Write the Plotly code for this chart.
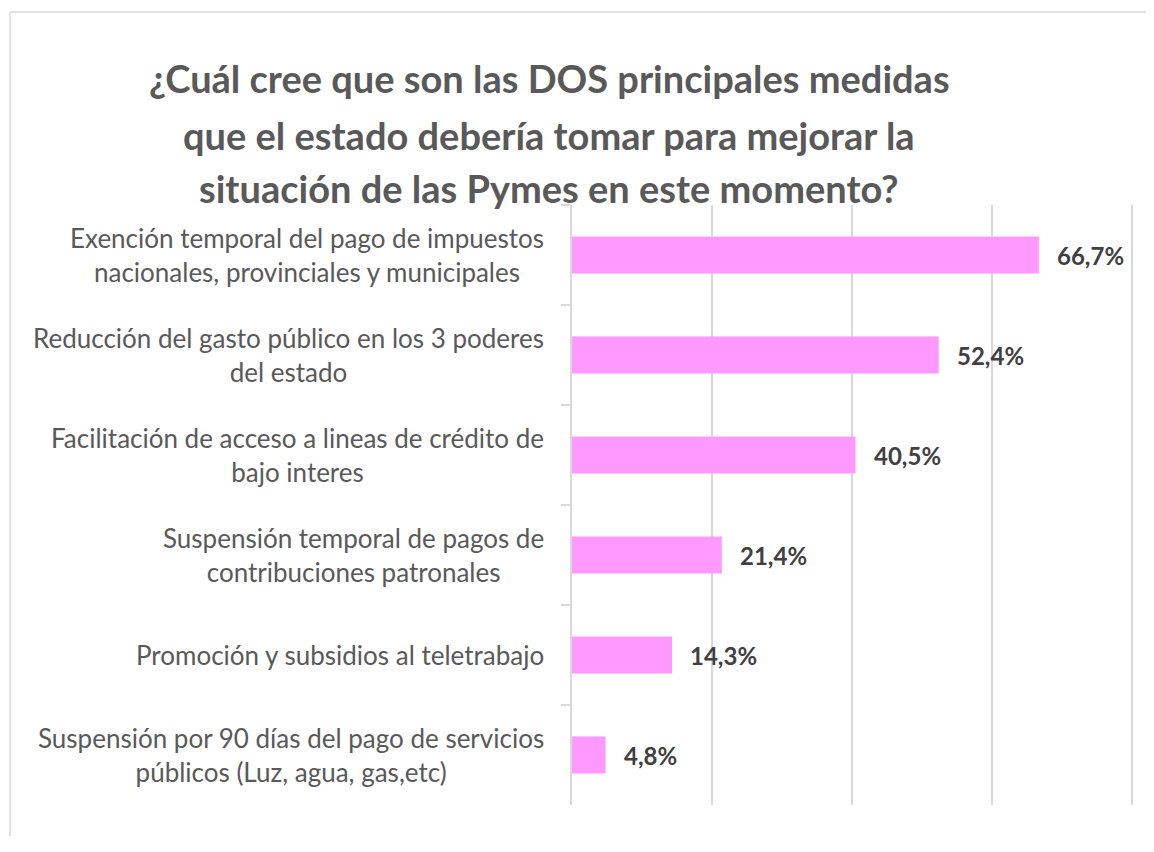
import plotly.graph_objects as go

# datos de la encuesta
medidas = [
    "Exención temporal del pago de impuestos<br>nacionales, provinciales y municipales",
    "Reducción del gasto público en los 3 poderes<br>del estado",
    "Facilitación de acceso a lineas de crédito de<br>bajo interes",
    "Suspensión temporal de pagos de<br>contribuciones patronales",
    "Promoción y subsidios al teletrabajo",
    "Suspensión por 90 días del pago de servicios<br>públicos (Luz, agua, gas,etc)",
]
porcentajes = [66.7, 52.4, 40.5, 21.4, 14.3, 4.8]
titulo = [
    "¿Cuál cree que son las DOS principales medidas",
    "que el estado debería tomar para mejorar la",
    "situación de las Pymes en este momento?",
]

FUENTE = "Lato"
GRIS = "#D9D9D9"

fig = go.Figure()
fig.add_trace(go.Bar(
    x=porcentajes, y=medidas, orientation="h",
    marker=dict(color="#FF99FF", line=dict(width=0)),
    hoverinfo="skip",
))

anots = []
# etiquetas de categoria centradas (como en Excel)
for m in medidas:
    anots.append(dict(x=0, xref="paper", y=m, yref="y", text=m, showarrow=False,
                      xanchor="right", yanchor="middle", align="center", xshift=-26,
                      font=dict(family=FUENTE, size=26, color="#595959")))
# etiquetas de valores
for m, p in zip(medidas, porcentajes):
    anots.append(dict(x=p, xref="x", y=m, yref="y", text=f"{p:.1f}%".replace(".", ","),
                      showarrow=False, xanchor="left", yanchor="middle", xshift=16,
                      font=dict(family=FUENTE, size=24, color="#404040", weight="bold")))
# titulo en tres lineas (area de trazado: 567 x 600 px)
for txt, y_px in zip(titulo, [70, 127, 180]):
    anots.append(dict(x=-23 / 567, xref="paper", y=(797 - y_px) / 600, yref="paper",
                      text=txt, showarrow=False, xanchor="center", yanchor="middle",
                      font=dict(family=FUENTE, size=38, color="#595959", weight="bold")))

# borde del grafico: solo se ven el lado superior y el izquierdo
x_izq = -562 / 567
y_sup = (797 - 4) / 600
borde = [
    dict(type="line", xref="paper", yref="paper", x0=x_izq, x1=1.2, y0=y_sup, y1=y_sup,
         line=dict(color=GRIS, width=1.5), layer="below"),
    dict(type="line", xref="paper", yref="paper", x0=x_izq, x1=x_izq, y0=-0.2, y1=y_sup,
         line=dict(color=GRIS, width=1.5), layer="below"),
]

# el body de la pagina tiene 8px de margen: figura mas chica para evitar scroll
fig.update_layout(
    width=1138, height=828,
    margin=dict(l=564, r=7, t=197, b=31),
    paper_bgcolor="white", plot_bgcolor="white",
    bargap=0.63, showlegend=False,
    annotations=anots,
    shapes=borde,
)
# rango un poco mayor que 80 para que se vea la ultima linea de grilla
fig.update_xaxes(range=[0, 81], dtick=20, showgrid=True, gridcolor=GRIS, gridwidth=1.5,
                 showticklabels=False, zeroline=False, showline=False)
fig.update_yaxes(autorange="reversed", showticklabels=False, showgrid=False,
                 showline=True, linecolor=GRIS, linewidth=1.5,
                 ticks="outside", tickson="boundaries", ticklen=9, tickcolor=GRIS, tickwidth=1.5)

fig.write_html("out.html")
